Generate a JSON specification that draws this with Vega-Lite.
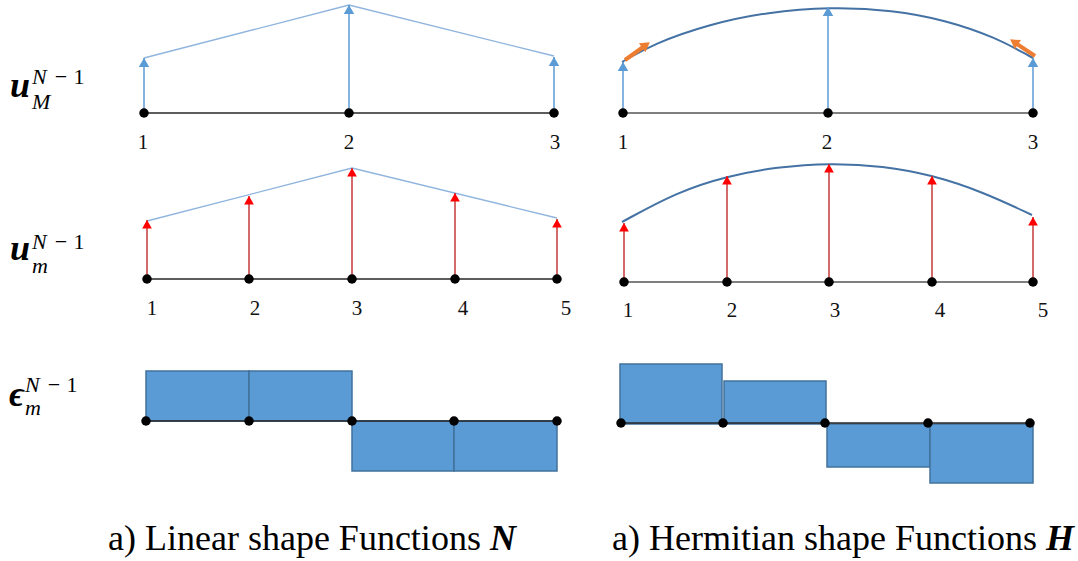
{
  "$schema": "https://vega.github.io/schema/vega-lite/v6.json",
  "width": 1078,
  "height": 561,
  "padding": 0,
  "autosize": {"type": "none"},
  "background": "white",
  "config": {"view": {"stroke": null}},
  "datasets": {
    "nodes": [
      {"x": 144, "y": 113}, {"x": 349, "y": 113}, {"x": 554, "y": 113},
      {"x": 623, "y": 113}, {"x": 828, "y": 113}, {"x": 1033, "y": 113},
      {"x": 147, "y": 279}, {"x": 249, "y": 279}, {"x": 352, "y": 279}, {"x": 455, "y": 279}, {"x": 557, "y": 279},
      {"x": 624, "y": 282}, {"x": 727, "y": 282}, {"x": 829, "y": 282}, {"x": 932, "y": 282}, {"x": 1033, "y": 282},
      {"x": 146, "y": 421}, {"x": 249, "y": 421}, {"x": 352, "y": 421}, {"x": 454, "y": 421}, {"x": 557, "y": 421},
      {"x": 621, "y": 423}, {"x": 723, "y": 423}, {"x": 825, "y": 423}, {"x": 928, "y": 423}, {"x": 1030, "y": 423}
    ],
    "baselines": [
      {"scheme": "dark", "x": 144, "x2": 554, "y": 113},
      {"scheme": "gray", "x": 623, "x2": 1033, "y": 113},
      {"scheme": "dark", "x": 147, "x2": 557, "y": 279},
      {"scheme": "gray", "x": 624, "x2": 1033, "y": 282},
      {"scheme": "dark", "x": 146, "x2": 557, "y": 421},
      {"scheme": "dark", "x": 621, "x2": 1030, "y": 423}
    ],
    "arrows": [
      {"level": "coarse", "x": 144, "y": 113, "tip": 58},
      {"level": "coarse", "x": 349, "y": 113, "tip": 5},
      {"level": "coarse", "x": 554, "y": 113, "tip": 57},
      {"level": "coarse", "x": 623, "y": 113, "tip": 62},
      {"level": "coarse", "x": 828, "y": 113, "tip": 7},
      {"level": "coarse", "x": 1033, "y": 113, "tip": 58},
      {"level": "fine", "x": 147, "y": 279, "tip": 220},
      {"level": "fine", "x": 249, "y": 279, "tip": 196},
      {"level": "fine", "x": 352, "y": 279, "tip": 168},
      {"level": "fine", "x": 455, "y": 279, "tip": 193},
      {"level": "fine", "x": 557, "y": 279, "tip": 219},
      {"level": "fine", "x": 624, "y": 282, "tip": 223},
      {"level": "fine", "x": 727, "y": 282, "tip": 176},
      {"level": "fine", "x": 829, "y": 282, "tip": 164},
      {"level": "fine", "x": 932, "y": 282, "tip": 176},
      {"level": "fine", "x": 1033, "y": 282, "tip": 217}
    ],
    "linear": [
      {"series": "top", "x": 144, "y": 58}, {"series": "top", "x": 349, "y": 5}, {"series": "top", "x": 554, "y": 56},
      {"series": "mid", "x": 147, "y": 221}, {"series": "mid", "x": 352, "y": 168}, {"series": "mid", "x": 557, "y": 218}
    ],
    "curves": [
      {"series": "top", "x": 622, "y": 62}, {"series": "top", "x": 653, "y": 44}, {"series": "top", "x": 710, "y": 24},
      {"series": "top", "x": 768, "y": 12}, {"series": "top", "x": 830, "y": 7}, {"series": "top", "x": 893, "y": 10},
      {"series": "top", "x": 945, "y": 20}, {"series": "top", "x": 995, "y": 37}, {"series": "top", "x": 1033, "y": 58},
      {"series": "mid", "x": 622, "y": 222}, {"series": "mid", "x": 677, "y": 192}, {"series": "mid", "x": 727, "y": 176},
      {"series": "mid", "x": 777, "y": 167}, {"series": "mid", "x": 830, "y": 163}, {"series": "mid", "x": 883, "y": 166},
      {"series": "mid", "x": 932, "y": 175}, {"series": "mid", "x": 983, "y": 192}, {"series": "mid", "x": 1032, "y": 215}
    ],
    "tangents": [
      {"x": 625, "y": 60, "x2": 646, "y2": 45, "angle": 54},
      {"x": 1035, "y": 56, "x2": 1014, "y2": 42, "angle": 304}
    ],
    "bars": [
      {"x": 146, "x2": 249, "y": 371, "y2": 421},
      {"x": 249, "x2": 352, "y": 371, "y2": 421},
      {"x": 352, "x2": 454, "y": 421, "y2": 471},
      {"x": 454, "x2": 557, "y": 421, "y2": 471},
      {"x": 620, "x2": 722, "y": 364, "y2": 424},
      {"x": 724, "x2": 826, "y": 381, "y2": 424},
      {"x": 827, "x2": 930, "y": 424, "y2": 467},
      {"x": 930, "x2": 1033, "y": 424, "y2": 483}
    ],
    "labels": [
      {"k": "digit", "t": "1", "x": 143, "y": 143}, {"k": "digit", "t": "2", "x": 349, "y": 143}, {"k": "digit", "t": "3", "x": 555, "y": 143},
      {"k": "digit", "t": "1", "x": 623, "y": 143}, {"k": "digit", "t": "2", "x": 827, "y": 143}, {"k": "digit", "t": "3", "x": 1033, "y": 143},
      {"k": "digit", "t": "1", "x": 152, "y": 309}, {"k": "digit", "t": "2", "x": 255, "y": 309}, {"k": "digit", "t": "3", "x": 357, "y": 309},
      {"k": "digit", "t": "4", "x": 463, "y": 309}, {"k": "digit", "t": "5", "x": 566, "y": 309},
      {"k": "digit", "t": "1", "x": 628, "y": 311}, {"k": "digit", "t": "2", "x": 732, "y": 311}, {"k": "digit", "t": "3", "x": 835, "y": 311},
      {"k": "digit", "t": "4", "x": 940, "y": 311}, {"k": "digit", "t": "5", "x": 1043, "y": 311},
      {"k": "big", "t": "u", "x": 10, "y": 97}, {"k": "big", "t": "u", "x": 10, "y": 260}, {"k": "big", "t": "ϵ", "x": 9, "y": 406},
      {"k": "ital", "t": "N", "x": 32, "y": 84}, {"k": "ital", "t": "M", "x": 32, "y": 109},
      {"k": "ital", "t": "N", "x": 32, "y": 249}, {"k": "ital", "t": "m", "x": 32, "y": 273},
      {"k": "ital", "t": "N", "x": 25, "y": 392}, {"k": "ital", "t": "m", "x": 25, "y": 415},
      {"k": "up", "t": "−", "x": 61, "y": 84}, {"k": "up", "t": "1", "x": 79, "y": 84},
      {"k": "up", "t": "−", "x": 61, "y": 249}, {"k": "up", "t": "1", "x": 79, "y": 249},
      {"k": "up", "t": "−", "x": 54, "y": 392}, {"k": "up", "t": "1", "x": 72, "y": 392},
      {"k": "cap", "t": "a) Linear shape Functions", "x": 108, "y": 550},
      {"k": "cap", "t": "a) Hermitian shape Functions", "x": 612, "y": 550},
      {"k": "capb", "t": "N", "x": 490, "y": 550},
      {"k": "capb", "t": "H", "x": 1046, "y": 550}
    ]
  },
  "layer": [
    {
      "data": {"name": "bars"},
      "mark": {"type": "rect", "fill": "#5b9bd5", "stroke": "#41719c", "strokeWidth": 1.5},
      "encoding": {
        "x": {"field": "x", "type": "quantitative", "scale": {"domain": [0, 1078], "nice": false, "zero": false}, "axis": null},
        "x2": {"field": "x2"},
        "y": {"field": "y", "type": "quantitative", "scale": {"domain": [0, 561], "nice": false, "zero": false, "reverse": true}, "axis": null},
        "y2": {"field": "y2"}
      }
    },
    {
      "data": {"name": "baselines"},
      "transform": [{"filter": "datum.scheme === 'dark'"}],
      "mark": {"type": "rule", "color": "#262626", "strokeWidth": 1.5},
      "encoding": {
        "x": {"field": "x", "type": "quantitative", "scale": {"domain": [0, 1078], "nice": false, "zero": false}, "axis": null},
        "x2": {"field": "x2"},
        "y": {"field": "y", "type": "quantitative", "scale": {"domain": [0, 561], "nice": false, "zero": false, "reverse": true}, "axis": null}
      }
    },
    {
      "data": {"name": "baselines"},
      "transform": [{"filter": "datum.scheme === 'gray'"}],
      "mark": {"type": "rule", "color": "#7f7f7f", "strokeWidth": 2},
      "encoding": {
        "x": {"field": "x", "type": "quantitative", "scale": {"domain": [0, 1078], "nice": false, "zero": false}, "axis": null},
        "x2": {"field": "x2"},
        "y": {"field": "y", "type": "quantitative", "scale": {"domain": [0, 561], "nice": false, "zero": false, "reverse": true}, "axis": null}
      }
    },
    {
      "data": {"name": "linear"},
      "mark": {"type": "line", "color": "#8fb4de", "strokeWidth": 1.3},
      "encoding": {
        "x": {"field": "x", "type": "quantitative", "scale": {"domain": [0, 1078], "nice": false, "zero": false}, "axis": null},
        "y": {"field": "y", "type": "quantitative", "scale": {"domain": [0, 561], "nice": false, "zero": false, "reverse": true}, "axis": null},
        "detail": {"field": "series", "type": "nominal"}
      }
    },
    {
      "data": {"name": "curves"},
      "mark": {"type": "line", "color": "#4472a4", "strokeWidth": 2, "interpolate": "basis"},
      "encoding": {
        "x": {"field": "x", "type": "quantitative", "scale": {"domain": [0, 1078], "nice": false, "zero": false}, "axis": null},
        "y": {"field": "y", "type": "quantitative", "scale": {"domain": [0, 561], "nice": false, "zero": false, "reverse": true}, "axis": null},
        "detail": {"field": "series", "type": "nominal"}
      }
    },
    {
      "data": {"name": "arrows"},
      "transform": [{"filter": "datum.level === 'coarse'"}],
      "mark": {"type": "rule", "color": "#5b9bd5", "strokeWidth": 1.5},
      "encoding": {
        "x": {"field": "x", "type": "quantitative", "scale": {"domain": [0, 1078], "nice": false, "zero": false}, "axis": null},
        "y": {"field": "y", "type": "quantitative", "scale": {"domain": [0, 561], "nice": false, "zero": false, "reverse": true}, "axis": null},
        "y2": {"field": "tip"}
      }
    },
    {
      "data": {"name": "arrows"},
      "transform": [{"filter": "datum.level === 'fine'"}],
      "mark": {"type": "rule", "color": "#c43a3a", "strokeWidth": 1.5},
      "encoding": {
        "x": {"field": "x", "type": "quantitative", "scale": {"domain": [0, 1078], "nice": false, "zero": false}, "axis": null},
        "y": {"field": "y", "type": "quantitative", "scale": {"domain": [0, 561], "nice": false, "zero": false, "reverse": true}, "axis": null},
        "y2": {"field": "tip"}
      }
    },
    {
      "data": {"name": "arrows"},
      "transform": [{"filter": "datum.level === 'coarse'"}],
      "mark": {"type": "point", "shape": "triangle-up", "filled": true, "color": "#5b9bd5", "opacity": 1, "size": 110, "yOffset": 4.5},
      "encoding": {
        "x": {"field": "x", "type": "quantitative", "scale": {"domain": [0, 1078], "nice": false, "zero": false}, "axis": null},
        "y": {"field": "tip", "type": "quantitative", "scale": {"domain": [0, 561], "nice": false, "zero": false, "reverse": true}, "axis": null}
      }
    },
    {
      "data": {"name": "arrows"},
      "transform": [{"filter": "datum.level === 'fine'"}],
      "mark": {"type": "point", "shape": "triangle-up", "filled": true, "color": "#ff0000", "opacity": 1, "size": 95, "yOffset": 4.2},
      "encoding": {
        "x": {"field": "x", "type": "quantitative", "scale": {"domain": [0, 1078], "nice": false, "zero": false}, "axis": null},
        "y": {"field": "tip", "type": "quantitative", "scale": {"domain": [0, 561], "nice": false, "zero": false, "reverse": true}, "axis": null}
      }
    },
    {
      "data": {"name": "tangents"},
      "mark": {"type": "rule", "color": "#ed7d31", "strokeWidth": 4},
      "encoding": {
        "x": {"field": "x", "type": "quantitative", "scale": {"domain": [0, 1078], "nice": false, "zero": false}, "axis": null},
        "x2": {"field": "x2"},
        "y": {"field": "y", "type": "quantitative", "scale": {"domain": [0, 561], "nice": false, "zero": false, "reverse": true}, "axis": null},
        "y2": {"field": "y2"}
      }
    },
    {
      "data": {"name": "tangents"},
      "mark": {"type": "point", "shape": "triangle-up", "filled": true, "color": "#ed7d31", "opacity": 1, "size": 120},
      "encoding": {
        "x": {"field": "x2", "type": "quantitative", "scale": {"domain": [0, 1078], "nice": false, "zero": false}, "axis": null},
        "y": {"field": "y2", "type": "quantitative", "scale": {"domain": [0, 561], "nice": false, "zero": false, "reverse": true}, "axis": null},
        "angle": {"field": "angle", "type": "quantitative", "scale": null}
      }
    },
    {
      "data": {"name": "nodes"},
      "mark": {"type": "point", "shape": "circle", "filled": true, "color": "#000000", "opacity": 1, "size": 90},
      "encoding": {
        "x": {"field": "x", "type": "quantitative", "scale": {"domain": [0, 1078], "nice": false, "zero": false}, "axis": null},
        "y": {"field": "y", "type": "quantitative", "scale": {"domain": [0, 561], "nice": false, "zero": false, "reverse": true}, "axis": null}
      }
    },
    {
      "data": {"name": "labels"},
      "transform": [{"filter": "datum.k === 'digit'"}],
      "mark": {"type": "text", "font": "Liberation Serif", "fontSize": 21, "align": "center", "baseline": "middle", "color": "#111111"},
      "encoding": {
        "x": {"field": "x", "type": "quantitative", "scale": {"domain": [0, 1078], "nice": false, "zero": false}, "axis": null},
        "y": {"field": "y", "type": "quantitative", "scale": {"domain": [0, 561], "nice": false, "zero": false, "reverse": true}, "axis": null},
        "text": {"field": "t"}
      }
    },
    {
      "data": {"name": "labels"},
      "transform": [{"filter": "datum.k === 'big'"}],
      "mark": {"type": "text", "font": "Liberation Serif, DejaVu Serif", "fontSize": 36, "fontWeight": "bold", "fontStyle": "italic", "align": "left", "baseline": "alphabetic", "color": "#000000"},
      "encoding": {
        "x": {"field": "x", "type": "quantitative", "scale": {"domain": [0, 1078], "nice": false, "zero": false}, "axis": null},
        "y": {"field": "y", "type": "quantitative", "scale": {"domain": [0, 561], "nice": false, "zero": false, "reverse": true}, "axis": null},
        "text": {"field": "t"}
      }
    },
    {
      "data": {"name": "labels"},
      "transform": [{"filter": "datum.k === 'ital'"}],
      "mark": {"type": "text", "font": "Liberation Serif", "fontSize": 22, "fontStyle": "italic", "align": "left", "baseline": "alphabetic", "color": "#000000"},
      "encoding": {
        "x": {"field": "x", "type": "quantitative", "scale": {"domain": [0, 1078], "nice": false, "zero": false}, "axis": null},
        "y": {"field": "y", "type": "quantitative", "scale": {"domain": [0, 561], "nice": false, "zero": false, "reverse": true}, "axis": null},
        "text": {"field": "t"}
      }
    },
    {
      "data": {"name": "labels"},
      "transform": [{"filter": "datum.k === 'up'"}],
      "mark": {"type": "text", "font": "Liberation Serif", "fontSize": 22, "align": "center", "baseline": "alphabetic", "color": "#000000"},
      "encoding": {
        "x": {"field": "x", "type": "quantitative", "scale": {"domain": [0, 1078], "nice": false, "zero": false}, "axis": null},
        "y": {"field": "y", "type": "quantitative", "scale": {"domain": [0, 561], "nice": false, "zero": false, "reverse": true}, "axis": null},
        "text": {"field": "t"}
      }
    },
    {
      "data": {"name": "labels"},
      "transform": [{"filter": "datum.k === 'cap'"}],
      "mark": {"type": "text", "font": "Liberation Serif", "fontSize": 36, "align": "left", "baseline": "alphabetic", "color": "#000000"},
      "encoding": {
        "x": {"field": "x", "type": "quantitative", "scale": {"domain": [0, 1078], "nice": false, "zero": false}, "axis": null},
        "y": {"field": "y", "type": "quantitative", "scale": {"domain": [0, 561], "nice": false, "zero": false, "reverse": true}, "axis": null},
        "text": {"field": "t"}
      }
    },
    {
      "data": {"name": "labels"},
      "transform": [{"filter": "datum.k === 'capb'"}],
      "mark": {"type": "text", "font": "Liberation Serif", "fontSize": 36, "fontWeight": "bold", "fontStyle": "italic", "align": "left", "baseline": "alphabetic", "color": "#000000"},
      "encoding": {
        "x": {"field": "x", "type": "quantitative", "scale": {"domain": [0, 1078], "nice": false, "zero": false}, "axis": null},
        "y": {"field": "y", "type": "quantitative", "scale": {"domain": [0, 561], "nice": false, "zero": false, "reverse": true}, "axis": null},
        "text": {"field": "t"}
      }
    }
  ]
}
